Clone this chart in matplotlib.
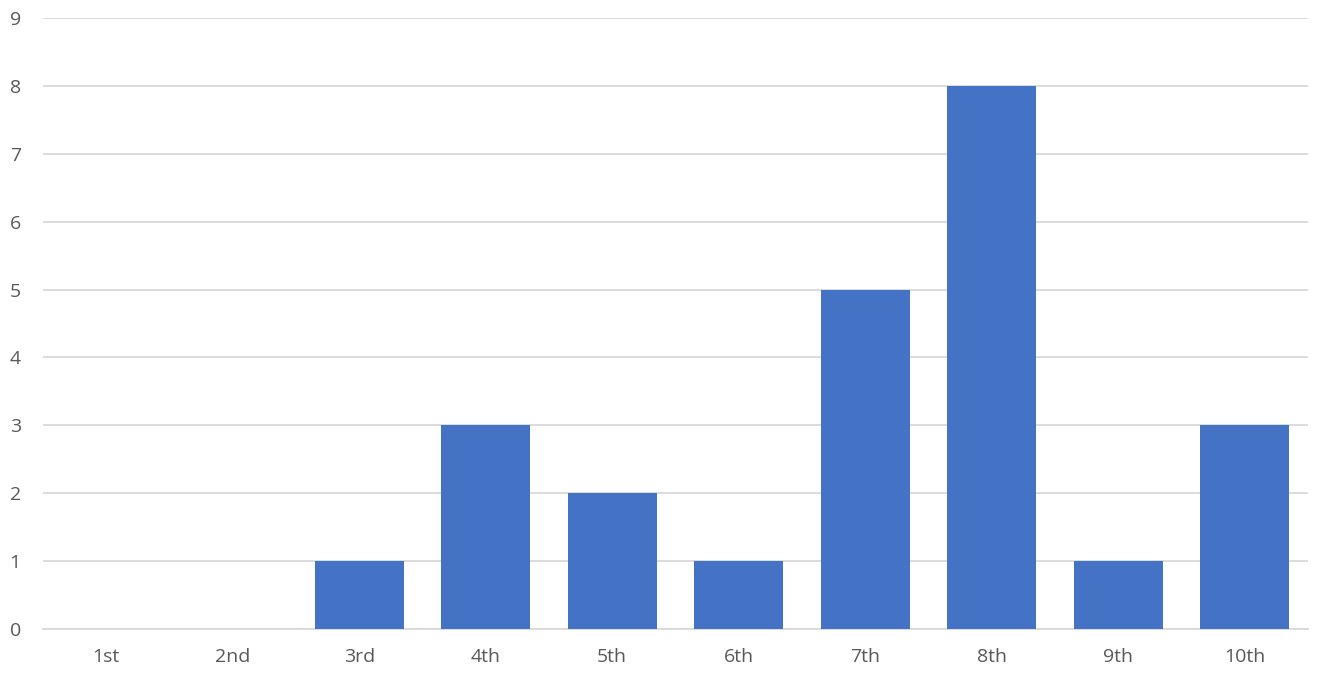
import matplotlib.pyplot as plt
import numpy as np

# category labels and counts
places = ['1st', '2nd', '3rd', '4th', '5th', '6th', '7th', '8th', '9th', '10th']
counts = [0, 0, 1, 3, 2, 1, 5, 8, 1, 3]
yticks = list(range(0, 10))

plt.rcParams['font.family'] = ['Open Sans', 'DejaVu Sans']

W, H = 1322, 680
fig = plt.figure(figsize=(W / 100, H / 100), dpi=100)
ax = fig.add_axes([43 / W, 51 / H, (1308 - 43) / W, (629 - 18) / H])

x = np.arange(len(places))
ax.bar(x, counts, width=0.7, color='#4472C4', zorder=3)

ax.set_xlim(-0.5, len(places) - 0.5)
ax.set_ylim(0, 9)
ax.set_yticks(yticks)
ax.set_xticks(x)
ax.set_xticklabels(places)

# light horizontal gridlines, no frame
ax.grid(axis='y', color='#D9D9D9', linewidth=1.3, zorder=0)
for side in ['top', 'right', 'left']:
    ax.spines[side].set_visible(False)
ax.spines['bottom'].set_color('#D9D9D9')
ax.spines['bottom'].set_linewidth(1.3)
ax.tick_params(axis='both', length=0, labelsize=14, colors='#595959')
ax.tick_params(axis='x', pad=14)
for lbl in ax.get_yticklabels():
    lbl.set_horizontalalignment('left')
ax.yaxis.set_tick_params(pad=24)

fig.savefig('out.png', dpi=100, facecolor='white')
